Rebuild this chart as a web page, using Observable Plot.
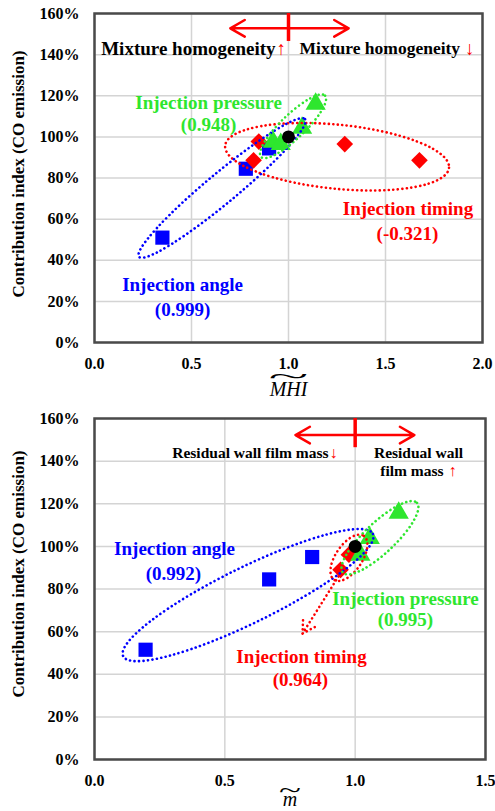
<!DOCTYPE html>
<html><head><meta charset="utf-8">
<script src="https://cdn.jsdelivr.net/npm/d3@7"></script>
<script src="https://cdn.jsdelivr.net/npm/@observablehq/plot@0.6"></script>
<style>
body{margin:0;background:#fff;}
svg{display:block;}
</style></head><body><div id="c"></div>
<script>
const BLUE = "#0000ff", RED = "#ff0000", GREEN = "#2ee62e";
const FONT = "'Liberation Serif','Times New Roman',serif";

// shared y ticks (fractions shown as percents)
const yTicks = [0, 0.2, 0.4, 0.6, 0.8, 1.0, 1.2, 1.4, 1.6];

// ---- top chart: MHI ----
const topXTicks = [0, 0.5, 1.0, 1.5, 2.0];
const topAngleX = [0.35, 0.78, 0.90];
const topAngleY = [0.51, 0.845, 0.944];
const topTimingX = [0.82, 0.847, 1.29, 1.675];
const topTimingY = [0.886, 0.977, 0.965, 0.886];
const topPressureX = [0.92, 0.96, 1.07, 1.14];
const topPressureY = [0.975, 0.965, 1.043, 1.16];
const topBaseX = [1.0];
const topBaseY = [1.0];

// ---- bottom chart: m ----
const botXTicks = [0, 0.5, 1.0, 1.5];
const botAngleX = [0.196, 0.67, 0.835];
const botAngleY = [0.515, 0.845, 0.95];
const botTimingX = [0.944, 0.976];
const botTimingY = [0.89, 0.961];
const botPressureX = [1.02, 1.056, 1.167];
const botPressureY = [0.96, 1.039, 1.157];
const botBaseX = [1.0];
const botBaseY = [1.0];

// annotation texts
const topLabels = [
  {t: "Injection pressure", x: 0.588, y: 1.167, c: GREEN},
  {t: "(0.948)", x: 0.588, y: 1.06, c: GREEN},
  {t: "Injection timing", x: 1.616, y: 0.649, c: RED},
  {t: "(-0.321)", x: 1.613, y: 0.53, c: RED},
  {t: "Injection angle", x: 0.454, y: 0.279, c: BLUE},
  {t: "(0.999)", x: 0.454, y: 0.16, c: BLUE}
];
const botLabels = [
  {t: "Injection angle", x: 0.307, y: 0.99, c: BLUE},
  {t: "(0.992)", x: 0.303, y: 0.873, c: BLUE},
  {t: "Injection pressure", x: 1.193, y: 0.755, c: GREEN},
  {t: "(0.995)", x: 1.193, y: 0.656, c: GREEN},
  {t: "Injection timing", x: 0.794, y: 0.482, c: RED},
  {t: "(0.964)", x: 0.79, y: 0.374, c: RED}
];

// ellipses: center, end of semi-major axis (data units), minor/major ratio
const topEllipses = [
  {cx: 1.253, cy: 0.901, ex: 1.83, ey: 0.847, r: 0.285, c: RED},
  {cx: 0.66, cy: 0.749, ex: 1.088, ey: 1.084, r: 0.14, c: BLUE},
  {cx: 1.026, cy: 1.049, ex: 1.191, ey: 1.198, r: 0.27, c: GREEN}
];
const botEllipses = [
  {cx: 0.591, cy: 0.769, ex: 1.07, ey: 1.056, r: 0.2, c: BLUE},
  {cx: 0.978, cy: 0.944, ex: 1.035, ey: 1.047, r: 0.5, c: RED},
  {cx: 1.097, cy: 1.038, ex: 1.239, ey: 1.202, r: 0.3, c: GREEN}
];

const pts = (xs, ys) => xs.map((x, i) => ({x, y: ys[i]}));

function ellipseMark(defs) {
  return (index, scales) => {
    const g = d3.create("svg:g");
    for (const e of defs) {
      const cx = scales.x(e.cx), cy = scales.y(e.cy);
      const ex = scales.x(e.ex), ey = scales.y(e.ey);
      const a = Math.hypot(ex - cx, ey - cy);
      const ang = Math.atan2(ey - cy, ex - cx) * 180 / Math.PI;
      g.append("ellipse")
        .attr("rx", a).attr("ry", a * e.r)
        .attr("transform", `translate(${cx},${cy}) rotate(${ang})`)
        .attr("fill", "none").attr("stroke", e.c)
        .attr("stroke-width", 2.6)
        .attr("stroke-linecap", "round")
        .attr("stroke-dasharray", "0.1 4.4");
    }
    return g.node();
  };
}

function build(cfg) {
  const svg = Plot.plot({
    width: 495, height: cfg.height,
    marginLeft: 94, marginRight: cfg.mr, marginTop: 13, marginBottom: cfg.mb,
    style: {fontFamily: FONT, fontSize: "16px", fontWeight: "bold", color: "#000", background: "#fff"},
    x: {domain: cfg.xDomain},
    y: {domain: [0, 1.6]},
    marks: [
      Plot.gridX(cfg.xTicks, {stroke: "#d4d4d4", strokeOpacity: 1, strokeWidth: 1.5}),
      Plot.gridY(yTicks, {stroke: "#d4d4d4", strokeOpacity: 1, strokeWidth: 1.5}),
      Plot.axisX(cfg.xTicks, {tickSize: 0, tickPadding: 15, tickFormat: d => d.toFixed(1), label: null}),
      Plot.axisY(yTicks, {tickSize: 0, tickPadding: 15, tickFormat: d3.format(".0%"), label: null}),
      Plot.frame({stroke: "#4a4a4a", strokeWidth: 2.5}),
      Plot.text(["Contribution index (CO emission)"], {frameAnchor: "left", textAnchor: "middle", rotate: -90, dx: -76, dy: cfg.ylabDy, fontSize: 17, fontWeight: "bold"}),
      Plot.text([cfg.xTitle], {frameAnchor: "bottom", dy: cfg.titleDy, fontSize: 20, fontStyle: "italic", fontWeight: "normal"}),
      Plot.text(["~"], {frameAnchor: "bottom", dy: cfg.tildeDy, fontSize: 22, fontWeight: "normal"}),
      // red direction arrows
      Plot.arrow(cfg.arrows, {x1: "x1", y1: "y1", x2: "x2", y2: "y2", stroke: RED, strokeWidth: 2.5, headLength: 10}),
      Plot.ruleX([1.0], {y1: 1.6, y2: cfg.ruleLow, stroke: RED, strokeWidth: 3.5}),
      ...cfg.extra,
      // points
      Plot.dot(pts(cfg.angleX, cfg.angleY), {x: "x", y: "y", symbol: "square", r: 8, fill: BLUE}),
      Plot.dot(pts(cfg.timingX, cfg.timingY), {x: "x", y: "y", symbol: "diamond2", r: 7.5, fill: RED}),
      Plot.dot(pts(cfg.pressureX, cfg.pressureY), {x: "x", y: "y", symbol: "triangle", r: 7.5, fill: GREEN}),
      ellipseMark(cfg.ellipses),
      Plot.dot(pts(cfg.baseX, cfg.baseY), {x: "x", y: "y", symbol: "circle", r: 6.5, fill: "#000"}),
      Plot.text(cfg.labels, {x: "x", y: "y", text: "t", fill: "c", fontSize: 19, fontWeight: "bold"})
    ]
  });
  svg.querySelectorAll("text").forEach(t => {
    if (t.textContent === "~") {
      t.setAttribute("textLength", cfg.tildeLen);
      t.setAttribute("lengthAdjust", "spacingAndGlyphs");
    }
  });
  return svg;
}

const topSvg = build({
  height: 405, mr: 13, mb: 63, xDomain: [0, 2], xTicks: topXTicks, ylabDy: -4,
  xTitle: "MHI", titleDy: 53, tildeDy: 40, tildeLen: 40,
  arrows: [{x1: 1.0, y1: 1.528, x2: 0.70, y2: 1.528}, {x1: 1.0, y1: 1.528, x2: 1.31, y2: 1.528}],
  ruleLow: 1.464,
  angleX: topAngleX, angleY: topAngleY, timingX: topTimingX, timingY: topTimingY,
  pressureX: topPressureX, pressureY: topPressureY, baseX: topBaseX, baseY: topBaseY,
  ellipses: topEllipses, labels: topLabels,
  extra: [
    Plot.text(["Mixture homogeneity"], {x: 0.933, y: 1.43, textAnchor: "end", fontSize: 19, fill: "#000"}),
    Plot.text(["↑"], {x: 0.933, y: 1.43, textAnchor: "start", dx: 1, fontSize: 19, fontWeight: "normal", fill: RED}),
    Plot.text(["Mixture homogeneity"], {x: 1.057, y: 1.43, textAnchor: "start", fontSize: 17.5, fill: "#000"}),
    Plot.text(["↓"], {x: 1.91, y: 1.43, textAnchor: "start", fontSize: 19, fontWeight: "normal", fill: RED})
  ]
});

const botSvg = build({
  height: 406, mr: 10, mb: 52, xDomain: [0, 1.5], xTicks: botXTicks, ylabDy: -15,
  xTitle: "m", titleDy: 46, tildeDy: 37, tildeLen: 22,
  arrows: [{x1: 1.0, y1: 1.522, x2: 0.771, y2: 1.522}, {x1: 1.0, y1: 1.522, x2: 1.227, y2: 1.522}],
  ruleLow: 1.463,
  angleX: botAngleX, angleY: botAngleY, timingX: botTimingX, timingY: botTimingY,
  pressureX: botPressureX, pressureY: botPressureY, baseX: botBaseX, baseY: botBaseY,
  ellipses: botEllipses, labels: botLabels,
  extra: [
    Plot.arrow([{x1: 0.936, y1: 0.859, x2: 0.798, y2: 0.591}], {x1: "x1", y1: "y1", x2: "x2", y2: "y2", stroke: RED, strokeWidth: 2.6, strokeDasharray: "0.1 4.4", strokeLinecap: "round", headLength: 8}),
    Plot.text(["Residual wall film mass"], {x: 0.898, y: 1.438, textAnchor: "end", fontSize: 15.5, fill: "#000"}),
    Plot.text(["↓"], {x: 0.898, y: 1.438, textAnchor: "start", dx: 1, fontSize: 16, fontWeight: "normal", fill: RED}),
    Plot.text(["Residual wall"], {x: 1.243, y: 1.438, fontSize: 15.5, fill: "#000"}),
    Plot.text(["film mass"], {x: 1.339, y: 1.353, textAnchor: "end", fontSize: 15.5, fill: "#000"}),
    Plot.text(["↑"], {x: 1.358, y: 1.353, textAnchor: "start", fontSize: 16, fontWeight: "normal", fill: RED})
  ]
});

document.getElementById("c").append(topSvg, botSvg);
</script>
</body></html>
